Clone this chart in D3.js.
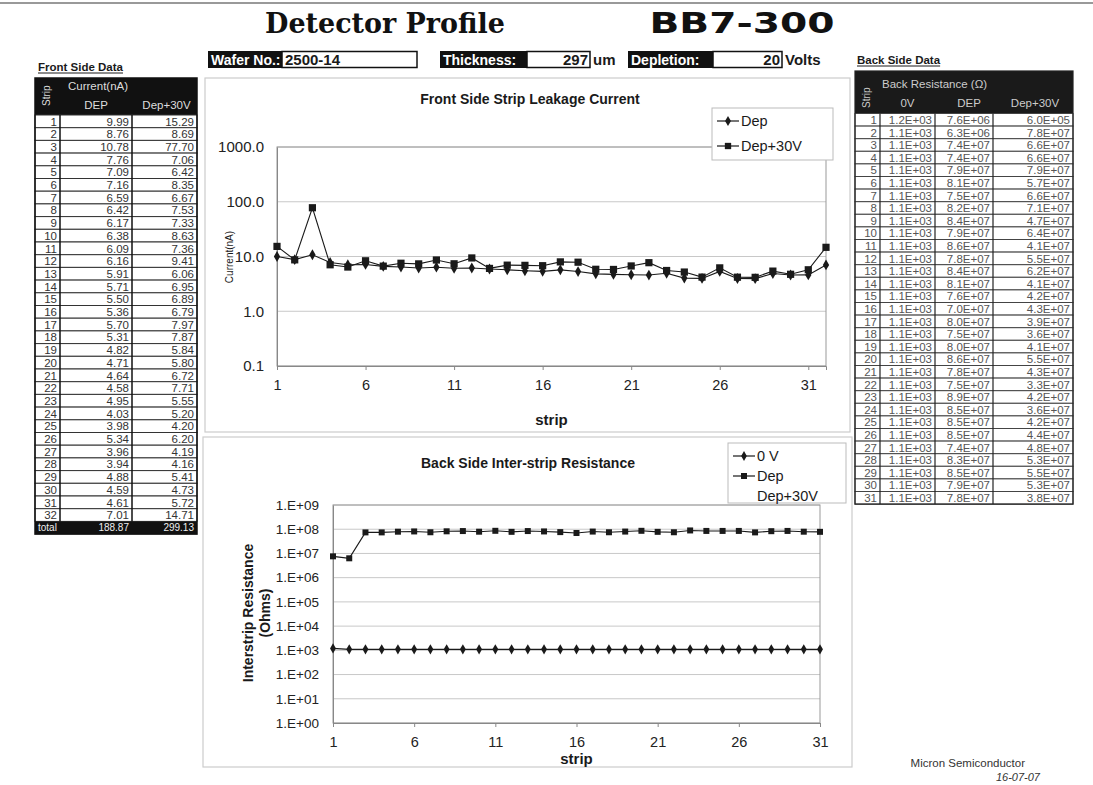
<!DOCTYPE html>
<html>
<head>
<meta charset="utf-8">
<script src="https://cdn.jsdelivr.net/npm/d3@7"></script>
<style>
  body { margin: 0; background: #fff; }
  svg { font-family: "Liberation Sans", Arial, sans-serif; }
</style>
</head>
<body>
<svg id="page" width="1093" height="785"></svg>
<script>
// strip numbers (categories)
const frontStrips = [1,2,3,4,5,6,7,8,9,10,11,12,13,14,15,16,17,18,19,20,21,22,23,24,25,26,27,28,29,30,31,32];
const backStrips = [1,2,3,4,5,6,7,8,9,10,11,12,13,14,15,16,17,18,19,20,21,22,23,24,25,26,27,28,29,30,31];

// front side leakage current (nA)
const frontDep = [9.99,8.76,10.78,7.76,7.09,7.16,6.59,6.42,6.17,6.38,6.09,6.16,5.91,5.71,5.50,5.36,
  5.70,5.31,4.82,4.71,4.64,4.58,4.95,4.03,3.98,5.34,3.96,3.94,4.88,4.59,4.61,7.01];
const frontDep30 = [15.29,8.69,77.70,7.06,6.42,8.35,6.67,7.53,7.33,8.63,7.36,9.41,6.06,6.95,6.89,6.79,
  7.97,7.87,5.84,5.80,6.72,7.71,5.55,5.20,4.20,6.20,4.19,4.16,5.41,4.73,5.72,14.71];
const frontTotals = [188.87, 299.13];

// back side inter-strip resistance (Ohm)
const back0V = [1.2e3,1.1e3,1.1e3,1.1e3,1.1e3,1.1e3,1.1e3,1.1e3,1.1e3,1.1e3,1.1e3,1.1e3,1.1e3,1.1e3,1.1e3,1.1e3,
  1.1e3,1.1e3,1.1e3,1.1e3,1.1e3,1.1e3,1.1e3,1.1e3,1.1e3,1.1e3,1.1e3,1.1e3,1.1e3,1.1e3,1.1e3];
const backDep = [7.6e6,6.3e6,7.4e7,7.4e7,7.9e7,8.1e7,7.5e7,8.2e7,8.4e7,7.9e7,8.6e7,7.8e7,8.4e7,8.1e7,7.6e7,7.0e7,
  8.0e7,7.5e7,8.0e7,8.6e7,7.8e7,7.5e7,8.9e7,8.5e7,8.5e7,8.5e7,7.4e7,8.3e7,8.5e7,7.9e7,7.8e7];
const backDep30 = [6.0e5,7.8e7,6.6e7,6.6e7,7.9e7,5.7e7,6.6e7,7.1e7,4.7e7,6.4e7,4.1e7,5.5e7,6.2e7,4.1e7,4.2e7,4.3e7,
  3.9e7,3.6e7,4.1e7,5.5e7,4.3e7,3.3e7,4.2e7,3.6e7,4.2e7,4.4e7,4.8e7,5.3e7,5.5e7,5.3e7,3.8e7];

// axis ticks
const stripTicks = [1,6,11,16,21,26,31];
const frontYTicks = [0.1,1,10,100,1000];
const backYTicks = [1e0,1e1,1e2,1e3,1e4,1e5,1e6,1e7,1e8,1e9];

// header fields
const waferNo = "2500-14", thickness = "297", depletion = "20";

const svg = d3.select("#page");
const ink = "#1a1a1a";

// formatter like excel "0.0E+00"
function sci(v) {
  const s = v.toExponential(1).toUpperCase();
  const m = s.match(/^(.*)E([+-])(\d+)$/);
  return m[1] + "E" + m[2] + (m[3].length < 2 ? "0" + m[3] : m[3]);
}

// page top rule
svg.append("line").attr("x1", 0).attr("x2", 1093).attr("y1", 3).attr("y2", 3)
  .attr("stroke", "#999").attr("stroke-width", 2);

// ---------- titles ----------
svg.append("text").attr("x", 385).attr("y", 33).attr("text-anchor", "middle")
  .style("font-family", "'DejaVu Serif', serif").style("font-weight", "bold")
  .style("font-size", "27px").attr("fill", "#111").attr("textLength", 240)
  .attr("lengthAdjust", "spacingAndGlyphs")
  .text("Detector Profile");
svg.append("text").attr("x", 742).attr("y", 33).attr("text-anchor", "middle")
  .style("font-family", "'DejaVu Sans', sans-serif").style("font-weight", "bold")
  .style("font-size", "28px").attr("fill", "#111").attr("textLength", 185)
  .attr("lengthAdjust", "spacingAndGlyphs")
  .text("BB7-300");

// header boxes
function field(x, w1, label, w2, value, align, unit) {
  const y = 51, h = 17;
  svg.append("rect").attr("x", x).attr("y", y).attr("width", w1).attr("height", h).attr("fill", "#111");
  svg.append("text").attr("x", x + 3).attr("y", y + 13.5).attr("fill", "#fff")
    .style("font-weight", "bold").style("font-size", "14px").text(label);
  svg.append("rect").attr("x", x + w1).attr("y", y + 0.5).attr("width", w2).attr("height", h - 1)
    .attr("fill", "#fff").attr("stroke", "#111").attr("stroke-width", 1.5);
  svg.append("text").attr("x", align === "end" ? x + w1 + w2 - 2 : x + w1 + 3).attr("y", y + 13.5)
    .attr("text-anchor", align).attr("fill", ink)
    .style("font-weight", "bold").style("font-size", "15px").text(value);
  if (unit) {
    svg.append("text").attr("x", x + w1 + w2 + 3).attr("y", y + 13.5).attr("fill", ink)
      .style("font-weight", "bold").style("font-size", "15px").text(unit);
  }
}
field(208, 74, "Wafer No.:", 135, waferNo, "start");
field(440, 87, "Thickness:", 63, thickness, "end", "um");
field(628, 85, "Depletion:", 69, depletion, "end", "Volts");

// ---------- tables ----------
function sectionTitle(x, y, t) {
  const tx = svg.append("text").attr("x", x).attr("y", y).attr("fill", ink)
    .style("font-weight", "bold").style("font-size", "11.5px").text(t);
  const w = tx.node().getComputedTextLength();
  svg.append("line").attr("x1", x).attr("x2", x + w).attr("y1", y + 2).attr("y2", y + 2)
    .attr("stroke", ink).attr("stroke-width", 1);
}

// front table
sectionTitle(38, 71, "Front Side Data");
{
  const x0 = 35, cols = [25, 72, 65];
  const cx = [x0, x0 + cols[0], x0 + cols[0] + cols[1], x0 + cols[0] + cols[1] + cols[2]];
  const hTop = 78, rTop = 115, rowH = 12.7;
  const g = svg.append("g");
  g.append("rect").attr("x", cx[0]).attr("y", hTop).attr("width", cx[3] - cx[0]).attr("height", rTop - hTop).attr("fill", "#111");
  g.append("text").attr("transform", `translate(${cx[0] + 15},${hTop + 28}) rotate(-90)`)
    .attr("fill", "#ddd").style("font-size", "10px").text("Strip");
  g.append("text").attr("x", cx[1] + 8).attr("y", hTop + 12).attr("fill", "#ddd").style("font-size", "11.5px").text("Current(nA)");
  g.append("text").attr("x", (cx[1] + cx[2]) / 2).attr("y", hTop + 31).attr("text-anchor", "middle")
    .attr("fill", "#ddd").style("font-size", "11.5px").text("DEP");
  g.append("text").attr("x", (cx[2] + cx[3]) / 2 + 2).attr("y", hTop + 31).attr("text-anchor", "middle")
    .attr("fill", "#ddd").style("font-size", "11.5px").text("Dep+30V");

  const rows = frontStrips.map((s, i) => ({ s, a: frontDep[i], b: frontDep30[i] }));
  const ry = d3.scaleBand().domain(d3.range(rows.length + 1)).range([rTop, rTop + rowH * (rows.length + 1)]);
  const rg = g.selectAll("g.row").data(rows).join("g").attr("class", "row")
    .attr("transform", (d, i) => `translate(0,${ry(i)})`);
  rg.append("rect").attr("x", cx[0]).attr("width", cx[3] - cx[0]).attr("height", ry.bandwidth())
    .attr("fill", "#fff").attr("stroke", "#333").attr("stroke-width", 1);
  rg.append("text").attr("x", cx[1] - 3).attr("y", 10.5).attr("text-anchor", "end").attr("fill", "#333")
    .style("font-size", "11.5px").text(d => d.s);
  rg.append("text").attr("x", cx[2] - 3).attr("y", 10.5).attr("text-anchor", "end").attr("fill", "#333")
    .style("font-size", "11.5px").text(d => d.a.toFixed(2));
  rg.append("text").attr("x", cx[3] - 3).attr("y", 10.5).attr("text-anchor", "end").attr("fill", "#333")
    .style("font-size", "11.5px").text(d => d.b.toFixed(2));
  [cx[1], cx[2]].forEach(x => g.append("line").attr("x1", x).attr("x2", x).attr("y1", rTop).attr("y2", ry(rows.length))
    .attr("stroke", "#111").attr("stroke-width", 1.5));
  // total row
  const ty = ry(rows.length);
  g.append("rect").attr("x", cx[0]).attr("y", ty).attr("width", cx[3] - cx[0]).attr("height", ry.bandwidth()).attr("fill", "#111");
  g.append("text").attr("x", cx[0] + 3).attr("y", ty + 9.5).attr("fill", "#eee").style("font-size", "10px").text("total");
  g.append("text").attr("x", cx[2] - 3).attr("y", ty + 9.5).attr("text-anchor", "end").attr("fill", "#eee")
    .style("font-size", "10px").text(frontTotals[0].toFixed(2));
  g.append("text").attr("x", cx[3] - 3).attr("y", ty + 9.5).attr("text-anchor", "end").attr("fill", "#eee")
    .style("font-size", "10px").text(frontTotals[1].toFixed(2));
  g.append("rect").attr("x", cx[0]).attr("y", hTop).attr("width", cx[3] - cx[0]).attr("height", ty + ry.bandwidth() - hTop)
    .attr("fill", "none").attr("stroke", "#111").attr("stroke-width", 1.5);
}

// back table
sectionTitle(857, 64, "Back Side Data");
{
  const x0 = 855, cols = [25, 55, 58, 80];
  const cx = [x0];
  cols.forEach(c => cx.push(cx[cx.length - 1] + c));
  const hTop = 71, rTop = 113.5, rowH = 12.6;
  const g = svg.append("g");
  g.append("rect").attr("x", cx[0]).attr("y", hTop).attr("width", cx[4] - cx[0]).attr("height", rTop - hTop).attr("fill", "#1a1a1a");
  g.append("text").attr("transform", `translate(${cx[0] + 15},${hTop + 37}) rotate(-90)`)
    .attr("fill", "#ccc").style("font-size", "10px").text("Strip");
  g.append("text").attr("x", cx[1] + 2).attr("y", hTop + 17).attr("fill", "#ccc").style("font-size", "11.5px").text("Back Resistance (Ω)");
  g.append("text").attr("x", (cx[1] + cx[2]) / 2).attr("y", hTop + 36).attr("text-anchor", "middle")
    .attr("fill", "#ccc").style("font-size", "11.5px").text("0V");
  g.append("text").attr("x", (cx[2] + cx[3]) / 2 + 5).attr("y", hTop + 36).attr("text-anchor", "middle")
    .attr("fill", "#ccc").style("font-size", "11.5px").text("DEP");
  g.append("text").attr("x", (cx[3] + cx[4]) / 2 + 2).attr("y", hTop + 36).attr("text-anchor", "middle")
    .attr("fill", "#ccc").style("font-size", "11.5px").text("Dep+30V");

  const rows = backStrips.map((s, i) => ({ s, v: [back0V[i], backDep[i], backDep30[i]] }));
  const ry = d3.scaleBand().domain(d3.range(rows.length)).range([rTop, rTop + rowH * rows.length]);
  const rg = g.selectAll("g.row").data(rows).join("g").attr("class", "row")
    .attr("transform", (d, i) => `translate(0,${ry(i)})`);
  rg.append("rect").attr("x", cx[0]).attr("width", cx[4] - cx[0]).attr("height", ry.bandwidth())
    .attr("fill", "#fff").attr("stroke", "#444").attr("stroke-width", 1);
  rg.append("text").attr("x", cx[1] - 3).attr("y", 10.5).attr("text-anchor", "end").attr("fill", "#555")
    .style("font-size", "11.5px").text(d => d.s);
  [0, 1, 2].forEach(k => {
    rg.append("text").attr("x", cx[k + 2] - 3).attr("y", 10.5).attr("text-anchor", "end").attr("fill", "#555")
      .style("font-size", "11.5px").text(d => sci(d.v[k]));
  });
  [cx[1], cx[2], cx[3]].forEach(x => g.append("line").attr("x1", x).attr("x2", x).attr("y1", rTop).attr("y2", ry(rows.length - 1) + rowH)
    .attr("stroke", "#222").attr("stroke-width", 1.2));
  g.append("rect").attr("x", cx[0]).attr("y", hTop).attr("width", cx[4] - cx[0]).attr("height", rTop + rowH * rows.length - hTop)
    .attr("fill", "none").attr("stroke", "#222").attr("stroke-width", 1.2);
}

// ---------- charts ----------
function legend(x, y, w, h, items, gap) {
  const g = svg.append("g");
  g.append("rect").attr("x", x).attr("y", y).attr("width", w).attr("height", h)
    .attr("fill", "#fff").attr("stroke", "#bbb").attr("stroke-width", 1);
  items.forEach((it, i) => {
    const yy = y + 13 + i * gap;
    if (it.sym) {
      g.append("line").attr("x1", x + 5).attr("x2", x + 27).attr("y1", yy).attr("y2", yy).attr("stroke", ink).attr("stroke-width", 1.2);
      g.append("path").attr("d", d3.symbol().type(it.sym).size(it.size)).attr("transform", `translate(${x + 16},${yy})`).attr("fill", ink);
    }
    g.append("text").attr("x", x + 29).attr("y", yy + 5).attr("fill", ink).style("font-size", "14.5px").text(it.name);
  });
}

function drawChart(o) {
  const g = svg.append("g");
  g.append("rect").attr("x", o.frame[0]).attr("y", o.frame[1]).attr("width", o.frame[2]).attr("height", o.frame[3])
    .attr("fill", "none").attr("stroke", "#ccc").attr("stroke-width", 1.2);
  const x = d3.scaleLinear().domain(o.xDomain).range([o.left, o.right]);
  const y = d3.scaleLog().domain([o.yTicks[0], o.yTicks[o.yTicks.length - 1]]).range([o.bottom, o.top]);
  // grid
  g.selectAll("line.grid").data(o.yTicks).join("line").attr("class", "grid")
    .attr("x1", o.left).attr("x2", o.right).attr("y1", d => y(d)).attr("y2", d => y(d))
    .attr("stroke", "#c8c8c8").attr("stroke-width", 1);
  g.append("rect").attr("x", o.left).attr("y", o.top).attr("width", o.right - o.left).attr("height", o.bottom - o.top)
    .attr("fill", "none").attr("stroke", "#999").attr("stroke-width", 1);
  // axes
  const xa = g.append("g").attr("transform", `translate(0,${o.bottom})`)
    .call(d3.axisBottom(x).tickValues(stripTicks).tickSize(4).tickPadding(o.xPad).tickFormat(d3.format("d")));
  xa.select(".domain").attr("stroke", "#888");
  xa.selectAll(".tick line").attr("stroke", "#888");
  xa.selectAll("text").attr("fill", "#222").style("font-size", "14.5px").style("font-family", "'Liberation Sans', Arial, sans-serif");
  const ya = g.append("g").attr("transform", `translate(${o.left},0)`)
    .call(d3.axisLeft(y).tickValues(o.yTicks).tickSize(0).tickPadding(o.yPad).tickFormat(o.yFmt));
  ya.select(".domain").attr("stroke", "#888");
  ya.selectAll("text").attr("fill", "#222").style("font-size", o.yFont).style("font-family", "'Liberation Sans', Arial, sans-serif");
  // series
  o.series.forEach(s => {
    const pts = o.strips.map((st, i) => [st, s.values[i]]);
    g.append("path").datum(pts).attr("fill", "none").attr("stroke", ink).attr("stroke-width", 1.1)
      .attr("d", d3.line().x(d => x(d[0])).y(d => y(d[1])));
    g.selectAll(null).data(pts).join("path")
      .attr("d", d3.symbol().type(s.sym).size(s.size))
      .attr("transform", d => `translate(${x(d[0])},${y(d[1])})`).attr("fill", ink);
  });
  // titles
  g.append("text").attr("x", o.titleX).attr("y", o.titleY).attr("text-anchor", "middle").attr("fill", ink)
    .style("font-weight", "bold").style("font-size", "14px").text(o.title);
  g.append("text").attr("x", (o.left + o.right) / 2).attr("y", o.xTitleY).attr("text-anchor", "middle").attr("fill", ink)
    .style("font-weight", "bold").style("font-size", "15px").text("strip");
  return g;
}

// front side chart
drawChart({
  frame: [205, 78, 645, 354],
  left: 277, right: 826, top: 147, bottom: 366,
  xDomain: [1, 32], strips: frontStrips,
  yTicks: frontYTicks, yFmt: d3.format(".1f"), yFont: "15px", yPad: 13, xPad: 10,
  series: [
    { values: frontDep, sym: d3.symbolDiamond, size: 34 },
    { values: frontDep30, sym: d3.symbolSquare, size: 52 }
  ],
  title: "Front Side Strip Leakage Current", titleX: 530, titleY: 104, xTitleY: 425
});
svg.append("text").attr("transform", "translate(233,257) rotate(-90)").attr("text-anchor", "middle")
  .attr("fill", ink).style("font-size", "10px").text("Current(nA)");
legend(712, 108, 121, 52, [
  { name: "Dep", sym: d3.symbolDiamond, size: 30 },
  { name: "Dep+30V", sym: d3.symbolSquare, size: 40 }
], 25);

// back side chart (Dep+30V is in the legend only, not plotted)
drawChart({
  frame: [203, 437, 649, 330],
  left: 333, right: 820, top: 505, bottom: 723,
  xDomain: [1, 31], strips: backStrips,
  yTicks: backYTicks, yFmt: d => "1.E+" + String(Math.round(Math.log10(d))).padStart(2, "0"), yFont: "13.5px", yPad: 14, xPad: 10,
  series: [
    { values: back0V, sym: d3.symbolDiamond, size: 30 },
    { values: backDep, sym: d3.symbolSquare, size: 36 }
  ],
  title: "Back Side Inter-strip Resistance", titleX: 528, titleY: 468, xTitleY: 764
});
svg.append("text").attr("transform", "translate(253,613) rotate(-90)").attr("text-anchor", "middle")
  .attr("fill", ink).style("font-weight", "bold").style("font-size", "14px").text("Interstrip Resistance");
svg.append("text").attr("transform", "translate(270,613) rotate(-90)").attr("text-anchor", "middle")
  .attr("fill", ink).style("font-weight", "bold").style("font-size", "14px").text("(Ohms)");
legend(728, 443, 118, 60, [
  { name: "0 V", sym: d3.symbolDiamond, size: 28 },
  { name: "Dep", sym: d3.symbolSquare, size: 36 },
  { name: "Dep+30V" }
], 20);

// footer
svg.append("text").attr("x", 1025).attr("y", 767).attr("text-anchor", "end").attr("fill", "#333")
  .style("font-size", "11.5px").text("Micron Semiconductor");
svg.append("text").attr("x", 1040).attr("y", 781).attr("text-anchor", "end").attr("fill", "#333")
  .style("font-size", "11px").style("font-style", "italic").text("16-07-07");
</script>
</body>
</html>
